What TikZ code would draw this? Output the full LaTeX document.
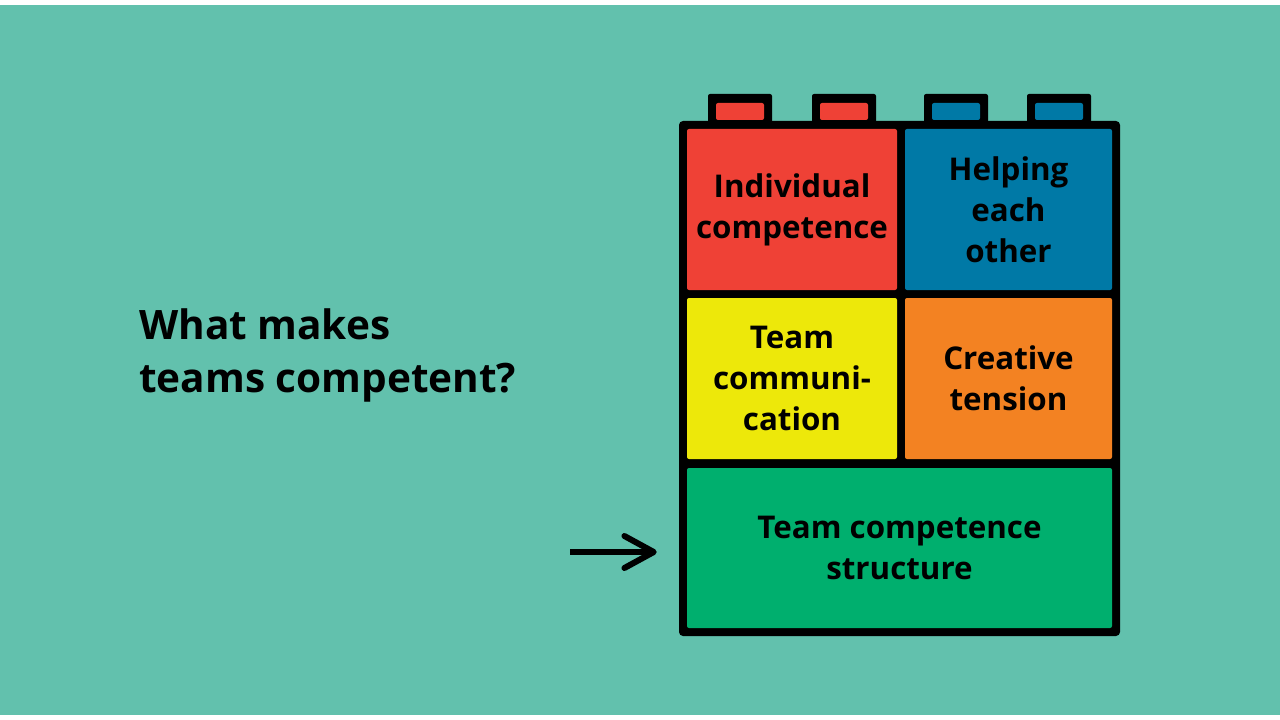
\documentclass[tikz,border=0pt]{standalone}
\usepackage{fontspec}
\setmainfont{Open Sans}
\usetikzlibrary{arrows.meta}

\definecolor{teal bg}{RGB}{98,193,173}
\definecolor{brick red}{RGB}{239,65,54}
\definecolor{brick blue}{RGB}{0,121,166}
\definecolor{brick yellow}{RGB}{237,232,10}
\definecolor{brick orange}{RGB}{243,130,34}
\definecolor{brick green}{RGB}{0,175,110}

\tikzset{
  cell/.style={rounded corners=1.5pt, inner sep=0pt, align=center,
    font=\fontsize{23.5pt}{30.75pt}\selectfont\bfseries,
    minimum height=120.75pt},
  stud/.style={fill=black, rounded corners=1.5pt},
}

\begin{document}
\begin{tikzpicture}[x=0.75pt,y=0.75pt,yscale=-1,xscale=1]
\useasboundingbox (0,0) rectangle (1280,720);

%Background
\fill[white] (0,0) rectangle (1280,720);
\fill[teal bg] (0,5) rectangle (1280,715);

%Brick body and studs
\fill[black, rounded corners=3pt] (679,121) rectangle (1120,636);
\foreach \sx/\col in {708/brick red, 812/brick red, 924/brick blue, 1027/brick blue}{
  \fill[stud] (\sx,94) rectangle ++(64,30);
  \fill[\col, rounded corners=1.5pt] (\sx+8,103) rectangle ++(48,17);
}

% Cells
\node[cell, fill=brick red, minimum width=157.5pt] (indiv) at (792,209.5) {Individual\\competence};
\node[cell, fill=brick blue, minimum width=155.25pt] (helping) at (1008.5,209.5) {Helping\\each\\other};
\node[cell, fill=brick yellow, minimum width=157.5pt] (comm) at (792,378.5) {Team\\communi-\\cation};
\node[cell, fill=brick orange, minimum width=155.25pt] (tension) at (1008.5,378.5) {Creative\\tension};
\node[cell, fill=brick green, minimum width=318.75pt, minimum height=120pt] (struct) at (899.5,548) {Team competence\\structure};

% Title
\node[anchor=west, inner sep=0pt, align=left, font=\fontsize{30.4pt}{39.75pt}\selectfont\bfseries] (title) at (139,355) {What makes\\teams competent?};

% Arrow
\coordinate (tail) at (570,552);
\draw[line width=4.5pt, -{Straight Barb[length=22pt,width=24pt,round]}, shorten >=22.5pt] (tail) -- (struct.west |- tail);

\end{tikzpicture}
\end{document}
